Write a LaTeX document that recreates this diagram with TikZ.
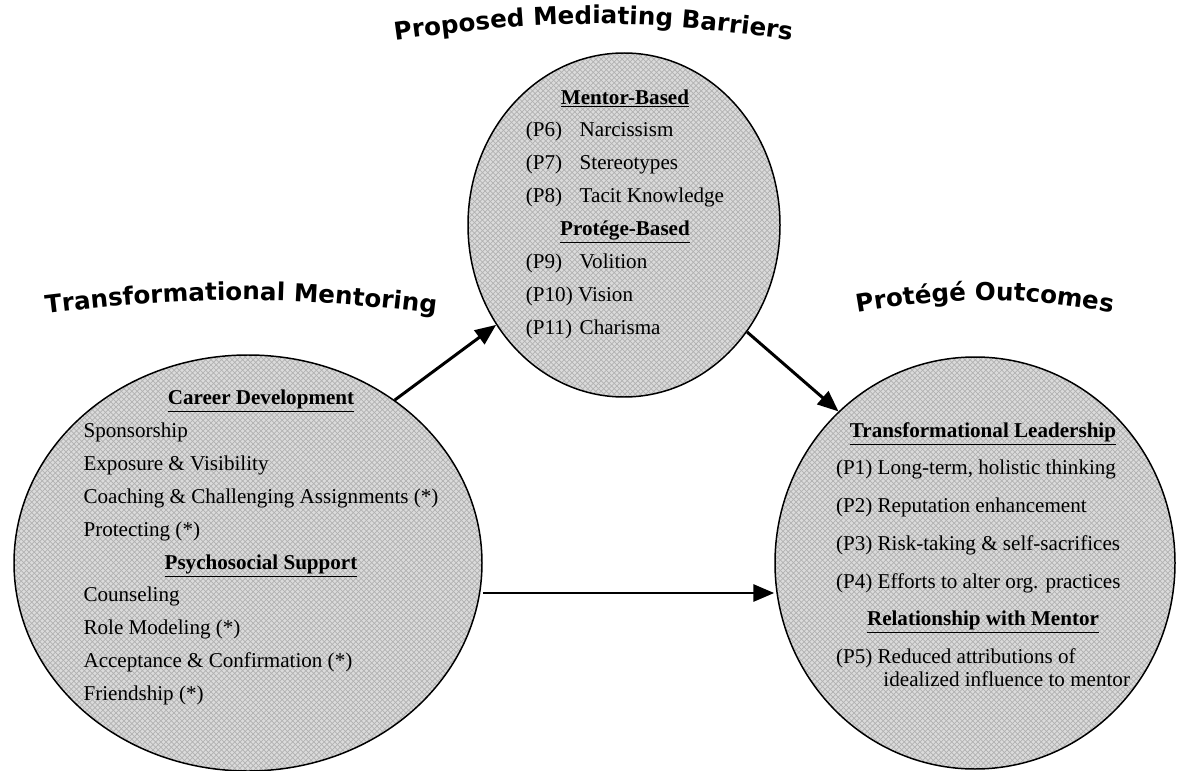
\documentclass[tikz,border=0pt]{standalone}
\usepackage{fontspec}
\setmainfont{Liberation Serif}
\setsansfont{DejaVu Sans}
\usepackage{tikz}
\usetikzlibrary{arrows.meta, positioning, shapes.geometric, patterns, decorations.text}

\newcommand{\hd}[1]{\multicolumn{1}{c}{\underline{\textbf{#1}}}}
\newcommand{\pl}[1]{\makebox[2.55em][l]{#1}}
\newcommand{\ttlfont}{\sffamily\bfseries\fontsize{14}{16}\selectfont}

\begin{document}
\begin{tikzpicture}[node distance=6.76cm, auto,
        bubble/.style={draw, ellipse, line width=0.85pt, preaction={fill=gray!28}, pattern=crosshatch, pattern color=gray!60},
        link/.style={-{Triangle[length=4.2mm, width=3.4mm]}, line width=1.7pt},
        txt/.style={font=\fontsize{12}{14.5}\selectfont, inner sep=0pt}]
        \useasboundingbox (0,0) rectangle (23.58,-15.42);

        % Nodes
        \node (pmb) [bubble, minimum width=6.24cm, minimum height=6.88cm] at (12.48,-4.5) {};
        \node (tm) [bubble, minimum width=9.36cm, minimum height=8.32cm, below of=pmb, xshift=-7.52cm] {};
        \node (po) [bubble, minimum width=8cm, minimum height=8.24cm, below of=pmb, xshift=7.02cm] {};

        \node (pmbtext) [txt, xshift=0.02cm, yshift=0.25cm] at (pmb.center) {\def\arraystretch{1.29}%
            \begin{tabular}{@{}l@{}}
                \hd{Mentor-Based}\\
                \pl{(P6)}Narcissism\\
                \pl{(P7)}Stereotypes\\
                \pl{(P8)}Tacit Knowledge\\
                \hd{Protége-Based}\\
                \pl{(P9)}Volition\\
                (P10) Vision\\
                \pl{(P11)}Charisma
            \end{tabular}};
        \node (tmtext) [txt, xshift=0.26cm, yshift=0.34cm] at (tm.center) {\def\arraystretch{1.29}%
            \begin{tabular}{@{}l@{}}
                \hd{Career Development}\\
                Sponsorship\\
                Exposure \& Visibility\\
                Coaching \& Challenging Assignments (*)\\
                Protecting (*)\\
                \hd{Psychosocial Support}\\
                Counseling\\
                Role Modeling (*)\\
                Acceptance \& Confirmation (*)\\
                Friendship (*)
            \end{tabular}};
        \node (potext) [txt, xshift=0.16cm, yshift=0.22cm] at (po.center) {\def\arraystretch{1.48}%
            \begin{tabular}{@{}l@{}}
                \hd{Transformational Leadership}\\
                (P1) Long-term, holistic thinking\\
                (P2) Reputation enhancement\\
                (P3) Risk-taking \& self-sacrifices\\
                (P4) Efforts to alter org. practices\\
                \hd{Relationship with Mentor}\\
                {\def\arraystretch{0.9}\begin{tabular}[t]{@{}l@{}}
                    (P5) Reduced attributions of\\
                    \hspace*{2.25em}idealized influence to mentor
                \end{tabular}}
            \end{tabular}};

        % Titles
        \path[decorate, decoration={text along path, text align=center, text={|\ttlfont|Proposed Mediating Barriers}}]
            (7.94,-0.8) to[bend left=8] (15.8,-0.8);
        \path[decorate, decoration={text along path, text align=center, text={|\ttlfont|Transformational Mentoring}}]
            (0.9,-6.28) to[bend left=7] (8.74,-6.28);
        \path[decorate, decoration={text along path, text align=center, text={|\ttlfont|Protégé Outcomes}}]
            (17.0,-6.28) to[bend left=10] (22.4,-6.28);

        % Arrows
        \draw[link] (tm.48) -- (pmb.218);
        \draw[link] (pmb.-41) -- (po.132);
        \draw[link] ([yshift=-0.6cm]tm.east) -- ([yshift=-0.6cm]po.west);
\end{tikzpicture}
\end{document}
